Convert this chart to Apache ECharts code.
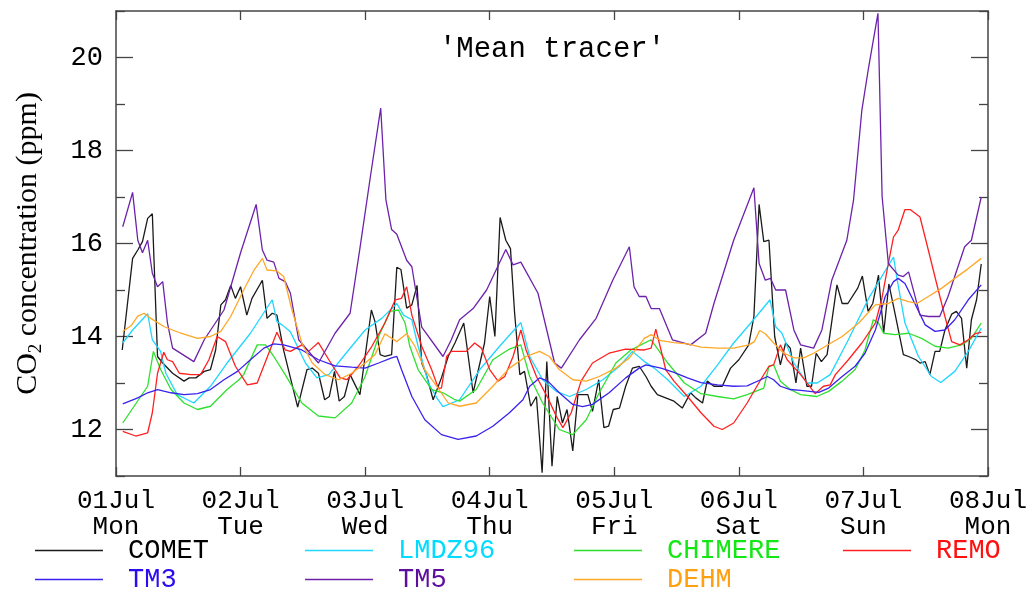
<!DOCTYPE html>
<html>
<head>
<meta charset="utf-8">
<script src="https://cdn.jsdelivr.net/npm/echarts@6/dist/echarts.min.js"></script>
<style>
  html, body { margin: 0; padding: 0; background: #fff; }
  #chart { width: 1032px; height: 594px; }
</style>
</head>
<body>
<div id="chart"></div>
<script>
// Tick labels for the time axis (hours since 01 Jul 00:00)
const dayLabels = ['01Jul', '02Jul', '03Jul', '04Jul', '05Jul', '06Jul', '07Jul', '08Jul'];
const weekDays = ['Mon', 'Tue', 'Wed', 'Thu', 'Fri', 'Sat', 'Sun', 'Mon'];
const yMajorTicks = [12, 14, 16, 18, 20];
const yMinorTicks = [11, 13, 15, 17, 19, 21];
const dayTicks = [0, 24, 48, 72, 96, 120, 144, 168];

// Model series: [hour, CO2 ppm]
const COMET = [[1.2,13.71],[3.2,15.68],[4.2,15.86],[5.1,16.04],[6.1,16.54],[7.0,16.64],[8.0,13.57],[9.0,13.43],[10.9,13.21],[13.1,13.04],[14.1,13.11],[15.4,13.11],[17.0,13.25],[18.2,13.29],[19.2,13.71],[20.2,14.68],[21.1,14.79],[22.1,15.10],[23.0,14.82],[24.0,15.07],[25.2,14.46],[26.2,14.82],[28.2,15.21],[29.1,14.39],[30.1,14.50],[31.0,14.46],[32.3,13.70],[35.0,12.48],[36.8,13.29],[37.8,13.32],[39.0,13.21],[40.2,12.64],[41.1,12.71],[42.1,13.25],[43.0,12.61],[44.0,12.71],[45.1,13.18],[47.0,12.75],[49.2,14.57],[49.9,14.32],[50.9,13.61],[51.8,13.57],[53.1,13.61],[54.1,15.49],[54.9,15.44],[56.0,14.61],[57.0,14.68],[58.0,15.10],[58.9,13.43],[59.8,13.18],[61.1,12.64],[62.7,13.11],[64.0,13.57],[65.3,13.86],[67.0,14.29],[68.8,12.79],[71.0,13.86],[72.0,14.86],[73.0,14.00],[74.0,16.56],[75.1,16.07],[76.0,15.89],[76.8,14.50],[77.8,13.18],[78.7,13.25],[79.9,12.50],[81.0,12.71],[82.1,11.07],[83.0,13.46],[84.0,11.21],[85.0,12.71],[86.0,12.14],[86.9,12.43],[88.0,11.54],[89.0,12.75],[90.9,12.75],[91.8,12.39],[93.0,13.07],[94.0,12.04],[94.9,12.07],[95.8,12.43],[97.0,12.46],[98.2,12.93],[99.5,13.32],[100.8,13.36],[102.1,13.14],[103.1,12.93],[104.3,12.75],[105.9,12.68],[107.5,12.61],[109.1,12.46],[110.7,12.79],[111.7,12.68],[113.0,12.57],[113.9,13.04],[115.2,12.93],[116.8,12.93],[118.4,13.32],[120.0,13.50],[121.9,13.82],[122.9,14.43],[123.9,16.84],[124.8,16.04],[125.8,16.07],[126.9,14.00],[128.0,13.39],[129.0,13.86],[129.9,13.75],[131.0,13.00],[131.9,13.75],[133.1,12.93],[134.0,12.93],[134.9,13.64],[135.9,13.46],[137.0,13.61],[138.9,15.11],[139.9,14.71],[141.0,14.71],[142.9,15.04],[143.8,15.30],[144.9,14.54],[145.8,14.71],[146.9,15.32],[147.9,14.07],[148.9,15.13],[150.0,14.54],[151.7,13.61],[152.7,13.57],[154.1,13.50],[154.9,13.43],[155.9,13.46],[156.8,13.18],[157.8,13.68],[158.7,13.68],[159.7,14.14],[161.0,14.48],[161.9,14.54],[162.9,14.39],[163.9,13.32],[164.8,14.36],[165.8,14.79],[166.7,15.56]];

const LMDZ96 = [[1.3,13.86],[3.2,14.14],[6.1,14.49],[7.0,13.93],[8.6,13.68],[9.6,13.21],[11.8,12.75],[15.0,12.57],[18.2,12.93],[21.4,13.43],[25.9,14.07],[30.1,14.79],[31.0,14.32],[32.0,14.25],[33.6,14.10],[36.5,13.43],[38.7,13.11],[41.0,13.18],[43.8,13.57],[48.0,14.14],[51.2,14.39],[54.1,14.71],[55.4,14.46],[57.0,14.36],[58.2,13.79],[60.2,13.00],[61.8,12.68],[63.0,12.49],[66.2,12.64],[70.1,13.29],[73.9,13.79],[78.0,14.30],[79.7,13.57],[82.2,13.07],[84.8,12.82],[87.4,12.71],[90.6,12.86],[93.8,13.07],[97.0,13.36],[99.5,13.68],[101.8,13.46],[103.7,13.32],[106.3,13.07],[109.5,12.71],[112.7,12.93],[115.9,13.39],[119.0,13.86],[122.3,14.29],[126.0,14.79],[127.1,14.21],[128.3,14.07],[130.6,13.43],[133.1,13.00],[135.1,13.00],[137.6,13.18],[141.1,13.93],[145.0,14.82],[149.8,15.71],[150.4,15.29],[152.0,14.29],[154.6,13.57],[157.1,13.14],[158.9,13.01],[161.6,13.25],[164.2,13.68],[166.7,14.18]];

const CHIMERE = [[1.3,12.14],[6.1,12.93],[7.2,13.68],[8.6,13.29],[10.6,12.86],[13.1,12.57],[15.7,12.43],[18.2,12.50],[21.4,12.86],[23.7,13.07],[24.6,13.18],[27.2,13.82],[28.8,13.82],[30.4,13.57],[32.6,13.18],[35.8,12.57],[39.0,12.29],[42.2,12.25],[45.4,12.57],[48.0,13.14],[50.6,14.00],[52.8,14.54],[54.4,14.57],[55.7,14.29],[56.6,13.79],[58.2,13.29],[60.8,12.86],[63.0,12.79],[65.3,12.64],[66.2,12.61],[69.4,12.86],[72.6,13.50],[75.8,13.73],[78.0,13.82],[79.7,13.14],[82.2,12.57],[85.4,12.00],[88.0,11.89],[90.6,12.21],[93.1,12.79],[96.3,13.43],[99.2,13.71],[101.1,13.82],[103.1,13.93],[106.3,13.43],[109.5,13.00],[112.7,12.77],[115.9,12.71],[119.0,12.66],[121.6,12.75],[124.8,12.89],[125.8,13.36],[126.7,13.39],[128.0,13.04],[129.9,12.86],[131.9,12.75],[135.0,12.71],[137.3,12.82],[139.9,13.04],[142.4,13.29],[144.3,13.71],[145.9,14.36],[146.9,14.29],[147.9,14.07],[150.1,14.04],[152.7,14.07],[155.2,13.96],[157.8,13.79],[160.3,13.75],[162.9,13.82],[164.8,13.96],[166.7,14.29]];

const REMO = [[1.3,11.96],[3.8,11.86],[6.1,11.93],[7.0,12.36],[8.0,13.21],[9.2,13.66],[9.9,13.50],[10.9,13.46],[12.2,13.21],[14.4,13.18],[16.3,13.18],[17.9,13.50],[19.5,14.00],[21.1,13.89],[23.0,13.36],[25.3,12.96],[27.2,13.00],[31.0,14.09],[32.6,13.71],[33.6,13.68],[35.8,13.82],[37.1,13.68],[39.0,13.87],[41.0,13.50],[43.2,13.11],[44.5,13.07],[46.7,13.36],[49.3,13.79],[51.8,14.29],[53.8,14.79],[55.0,14.82],[56.0,15.07],[57.0,14.46],[58.9,13.79],[60.8,13.29],[62.1,12.89],[62.7,12.89],[63.7,13.57],[64.6,13.68],[67.5,13.68],[69.1,13.86],[70.4,13.75],[72.0,13.29],[73.6,13.04],[74.9,13.14],[76.5,13.57],[78.0,14.14],[79.0,13.71],[81.0,13.14],[83.2,12.68],[84.8,12.29],[86.1,12.04],[87.7,12.36],[89.6,13.04],[91.8,13.43],[95.0,13.64],[98.2,13.73],[101.8,13.71],[103.1,13.75],[104.0,14.16],[105.0,13.71],[105.9,13.29],[107.5,13.04],[110.1,12.71],[112.7,12.36],[115.2,12.07],[116.8,12.00],[119.0,12.14],[121.6,12.57],[124.2,13.07],[125.8,13.36],[126.7,13.39],[128.0,13.82],[129.3,13.50],[131.9,13.18],[134.7,12.77],[136.3,12.93],[137.6,12.96],[138.6,13.18],[141.1,13.50],[143.7,13.86],[146.3,14.29],[147.5,14.79],[148.8,15.57],[149.8,16.14],[150.7,16.29],[152.0,16.73],[153.0,16.73],[154.9,16.57],[156.5,15.86],[158.1,15.14],[159.7,14.43],[161.0,13.89],[162.6,13.82],[164.2,13.93],[165.5,14.06],[166.7,14.09]];

const TM3 = [[1.3,12.55],[4.2,12.68],[6.1,12.79],[8.0,12.86],[10.6,12.79],[13.1,12.75],[15.7,12.77],[18.2,12.86],[20.8,13.07],[23.4,13.25],[25.9,13.50],[28.5,13.75],[30.4,13.84],[32.3,13.82],[35.8,13.71],[39.0,13.50],[42.2,13.37],[45.4,13.34],[48.0,13.32],[50.6,13.43],[53.1,13.54],[54.1,13.57],[55.0,13.29],[57.0,12.71],[59.5,12.21],[62.7,11.89],[65.9,11.79],[69.4,11.86],[72.6,12.07],[75.8,12.36],[78.4,12.64],[79.7,12.93],[81.6,13.11],[83.2,13.04],[85.4,12.79],[88.0,12.54],[89.9,12.49],[91.8,12.54],[95.0,12.79],[98.2,13.11],[100.8,13.32],[102.1,13.39],[105.0,13.32],[107.5,13.23],[110.1,13.11],[112.7,13.01],[115.9,12.96],[119.0,12.93],[121.6,12.94],[124.2,13.07],[125.5,13.14],[126.7,13.07],[128.0,12.93],[129.9,12.86],[131.9,12.84],[135.4,12.80],[137.3,12.89],[139.9,13.14],[142.4,13.36],[144.3,13.64],[146.3,14.14],[148.2,14.86],[149.8,15.18],[150.7,15.25],[152.0,15.14],[153.9,14.71],[155.9,14.25],[157.8,14.11],[159.7,14.14],[161.6,14.36],[164.2,14.79],[166.7,15.11]];

const TM5 = [[1.3,16.36],[3.2,17.10],[4.2,16.07],[5.1,15.80],[6.1,16.07],[7.0,15.36],[8.0,15.07],[9.0,15.18],[9.9,14.30],[10.9,13.75],[15.0,13.46],[17.0,13.93],[20.8,14.57],[24.0,15.80],[27.0,16.84],[28.2,15.86],[29.1,15.64],[30.4,15.60],[31.4,15.25],[32.6,15.18],[33.6,14.93],[35.2,13.93],[39.0,13.43],[42.2,14.07],[45.1,14.50],[47.0,15.90],[49.0,17.43],[51.0,18.91],[52.0,16.94],[53.1,16.30],[54.1,16.20],[56.0,15.64],[57.0,15.50],[58.9,14.20],[63.0,13.57],[64.6,13.93],[66.2,14.36],[68.8,14.60],[71.4,15.00],[75.1,15.87],[76.5,15.54],[78.0,15.60],[81.3,14.93],[84.5,13.43],[85.8,13.32],[89.3,13.93],[92.5,14.39],[95.7,15.21],[98.9,15.93],[99.8,15.07],[100.8,14.86],[102.1,14.86],[103.1,14.60],[104.7,14.60],[107.2,13.93],[110.7,13.82],[113.6,14.07],[115.2,14.71],[119.0,16.07],[122.9,17.20],[123.9,15.57],[125.1,15.21],[126.1,15.25],[127.1,15.00],[129.0,15.00],[130.6,14.14],[131.9,13.82],[134.4,13.75],[136.0,14.14],[137.9,15.21],[140.8,16.07],[142.1,16.94],[143.7,18.87],[145.0,19.79],[146.8,20.95],[147.6,17.01],[148.8,15.57],[150.7,15.32],[151.7,15.29],[152.7,15.39],[154.9,14.46],[156.5,14.43],[158.7,14.43],[160.3,14.86],[163.5,15.93],[164.8,16.07],[166.7,17.00]];

const DEHM = [[1.3,14.11],[2.9,14.23],[4.2,14.44],[5.4,14.50],[6.7,14.39],[9.3,14.21],[12.5,14.07],[15.7,13.96],[18.2,14.00],[20.2,14.11],[22.1,14.43],[24.6,15.00],[26.6,15.43],[28.2,15.68],[29.1,15.43],[31.0,15.41],[32.3,15.29],[33.9,14.57],[35.8,13.86],[37.8,13.43],[40.3,13.18],[42.9,13.07],[45.4,13.21],[48.0,13.43],[49.9,13.61],[51.8,14.06],[54.1,13.89],[56.0,14.06],[57.6,13.79],[59.5,13.29],[61.8,12.93],[64.0,12.57],[66.2,12.50],[69.4,12.57],[72.6,12.93],[75.8,13.32],[79.0,13.57],[81.6,13.68],[83.5,13.57],[85.4,13.29],[88.0,13.07],[90.6,13.04],[93.1,13.14],[96.3,13.32],[98.9,13.54],[101.8,13.96],[103.1,14.04],[105.0,13.91],[107.5,13.87],[110.1,13.84],[112.7,13.77],[115.9,13.75],[119.0,13.75],[121.9,13.82],[123.0,13.89],[124.0,14.13],[125.1,14.06],[126.7,13.86],[128.7,13.64],[130.6,13.54],[132.5,13.54],[134.4,13.64],[136.7,13.79],[139.9,14.00],[143.1,14.29],[146.3,14.68],[148.8,14.71],[150.7,14.82],[152.7,14.75],[154.3,14.71],[156.5,14.86],[159.1,15.04],[161.6,15.25],[164.2,15.46],[166.7,15.68]];

const seriesNames = ['COMET', 'LMDZ96', 'CHIMERE', 'REMO', 'TM3', 'TM5', 'DEHM'];
const seriesData = [COMET, LMDZ96, CHIMERE, REMO, TM3, TM5, DEHM];
const lineColors = ['#1a1a1a', '#1fd6ff', '#2ee02e', '#ff2020', '#3a22ee', '#6c22aa', '#ffa726'];
const textColors = ['#000000', '#00dcff', '#14e814', '#ff1010', '#2a0cf0', '#5e0e9e', '#ffa010'];

const hershey = '"Liberation Mono", "DejaVu Sans Mono", monospace';
const frameColor = '#444';

// Legend grid: two rows, four columns
const legendCols = [35, 305, 574, 843];
const legendRows = [537, 566];

const chart = echarts.init(document.getElementById('chart'), null, { renderer: 'canvas' });

function valueAxisY(position, ticks, len, withLabels) {
  return {
    type: 'value', min: 11, max: 21, position: position,
    axisLine: { show: withLabels, lineStyle: { color: frameColor, width: 1.5 } },
    axisTick: { show: true, inside: true, length: len, customValues: ticks,
                lineStyle: { color: frameColor, width: 1.3 } },
    axisLabel: withLabels && position === 'left'
      ? { show: true, customValues: yMajorTicks, margin: 13, color: '#000',
          fontFamily: hershey, fontSize: 27 }
      : { show: false },
    splitLine: { show: false }
  };
}

const yAxes = [
  Object.assign(valueAxisY('left', yMajorTicks, 17, true), {
    name: '{a|CO}{b|2}{a| concentration (ppm)}',
    nameLocation: 'middle',
    nameGap: 70,
    nameRotate: 90,
    nameTextStyle: {
      color: '#000',
      rich: {
        a: { fontFamily: '"Liberation Serif", "DejaVu Serif", serif', fontSize: 30, color: '#000', lineHeight: 36 },
        b: { fontFamily: '"Liberation Serif", "DejaVu Serif", serif', fontSize: 19, color: '#000', lineHeight: 19, verticalAlign: 'bottom' }
      }
    }
  }),
  valueAxisY('left', yMinorTicks, 9, false),
  valueAxisY('right', yMajorTicks, 17, true),
  valueAxisY('right', yMinorTicks, 9, false)
];

const xAxes = [
  {
    type: 'value', min: 0, max: 168, position: 'bottom',
    axisLine: { show: true, lineStyle: { color: frameColor, width: 1.5 } },
    axisTick: { show: true, inside: true, length: 9, customValues: dayTicks,
                lineStyle: { color: frameColor, width: 1.3 } },
    axisLabel: {
      show: true, customValues: dayTicks, margin: 12, color: '#000',
      fontFamily: hershey, fontSize: 26, lineHeight: 26,
      formatter: function (v) {
        const i = Math.round(v / 24);
        return dayLabels[i] + '\n' + weekDays[i];
      }
    },
    splitLine: { show: false }
  },
  {
    type: 'value', min: 0, max: 168, position: 'top',
    axisLine: { show: true, lineStyle: { color: frameColor, width: 1.5 } },
    axisTick: { show: true, inside: true, length: 9, customValues: dayTicks,
                lineStyle: { color: frameColor, width: 1.3 } },
    axisLabel: { show: false },
    splitLine: { show: false }
  }
];

const series = seriesNames.map(function (name, i) {
  return {
    name: name,
    type: 'line',
    data: seriesData[i],
    xAxisIndex: 0,
    yAxisIndex: 0,
    symbol: 'none',
    showSymbol: false,
    clip: true,
    lineStyle: { color: lineColors[i], width: 1.3 },
    itemStyle: { color: lineColors[i] },
    z: 2
  };
});

const legends = seriesNames.map(function (name, i) {
  return {
    left: legendCols[i % 4],
    top: legendRows[Math.floor(i / 4)],
    orient: 'horizontal',
    icon: 'rect',
    itemWidth: 68,
    itemHeight: 1.6,
    selectedMode: false,
    padding: 0,
    data: [{ name: name, textStyle: { color: textColors[i] } }],
    textStyle: { fontFamily: hershey, fontSize: 27, padding: [0, 0, 0, 20] }
  };
});

chart.setOption({
  animation: false,
  backgroundColor: '#ffffff',
  grid: { left: 116, right: 44, top: 11, bottom: 118, containLabel: false },
  xAxis: xAxes,
  yAxis: yAxes,
  legend: legends,
  graphic: [{
    type: 'text',
    x: 552,
    y: 49,
    style: {
      text: "'Mean tracer'",
      fill: '#000',
      font: '29px ' + hershey,
      textAlign: 'center',
      textVerticalAlign: 'middle'
    }
  }],
  series: series
});
</script>
</body>
</html>
